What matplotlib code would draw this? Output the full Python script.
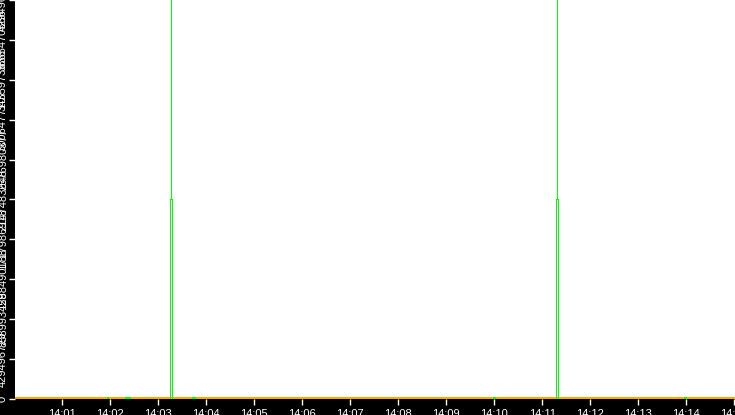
import matplotlib
matplotlib.use("Agg")
import matplotlib.pyplot as plt
import matplotlib.dates as mdates
from datetime import datetime

DAY = "2024-01-01 "

# time window shown on the x axis
x_start = "14:00:01"
x_end = "14:15:01"

# spike events: bar height and thin spike height
event_times = ["14:03:16", "14:11:19"]
event_values = [2147483648, 2147483648]
spike_values = [4294967296, 4294967296]

# y scale: 0 .. 2^32 split into ten steps
y_max = 4294967296
y_ticks = [0, 429496729, 858993459, 1288490188, 1717986918, 2147483648,
           2576980377, 3006477107, 3435973836, 3865470566, 4294967296]

# baseline series (orange) and short green blips sitting on it
baseline_times = [x_start, x_end]
baseline_values = [0, 0]
blip_starts = ["14:01:56", "14:02:19", "14:03:42", "14:09:59", "14:13:57"]
blip_ends = ["14:01:59", "14:02:26", "14:03:47", "14:10:02", "14:14:01"]

GREEN = "#00FF00"
ORANGE = "#FFAA00"

plt.rcParams["font.family"] = ["Liberation Sans", "DejaVu Sans"]


def t(s):
    return mdates.date2num(datetime.strptime(DAY + s, "%Y-%m-%d %H:%M:%S"))


fig = plt.figure(figsize=(7.35, 4.15), dpi=100, facecolor="black")
ax = fig.add_axes([15 / 735, 16 / 415, 720 / 735, 399 / 415])
ax.set_facecolor("white")

# baseline
ax.plot([t(s) for s in baseline_times], baseline_values,
        color=ORANGE, linewidth=3, solid_capstyle="butt", zorder=2)
for a, b in zip(blip_starts, blip_ends):
    ax.plot([t(a), t(b)], [0, 0], color=GREEN, linewidth=3,
            solid_capstyle="butt", zorder=3)

# each event: two 1px sides up to half height, a 1px spike to the top
half = 1.25 / 86400
ev = [t(s) for s in event_times]
ax.vlines([x - half for x in ev], 0, event_values,
          color=GREEN, linewidth=0.72, antialiased=False, zorder=4)
ax.vlines([x + half for x in ev], 0, event_values,
          color=GREEN, linewidth=0.72, antialiased=False, zorder=4)
ax.vlines(ev, event_values, spike_values,
          color=GREEN, linewidth=0.72, antialiased=False, zorder=4)

ax.set_xlim(t(x_start), t(x_end))
ax.set_ylim(0, y_max)

ax.xaxis.set_major_locator(mdates.MinuteLocator())
ax.xaxis.set_major_formatter(mdates.DateFormatter("%H:%M"))

ax.set_yticks(y_ticks)
ax.set_yticklabels([str(v) for v in y_ticks], rotation=90, va="center")

ax.tick_params(axis="x", colors="white", labelsize=8, length=4, width=1, pad=3)
ax.tick_params(axis="y", colors="white", labelsize=8, length=4, width=1, pad=1)

for spine in ax.spines.values():
    spine.set_visible(False)

plt.savefig("out.png", dpi=100, facecolor="black")
plt.close()
